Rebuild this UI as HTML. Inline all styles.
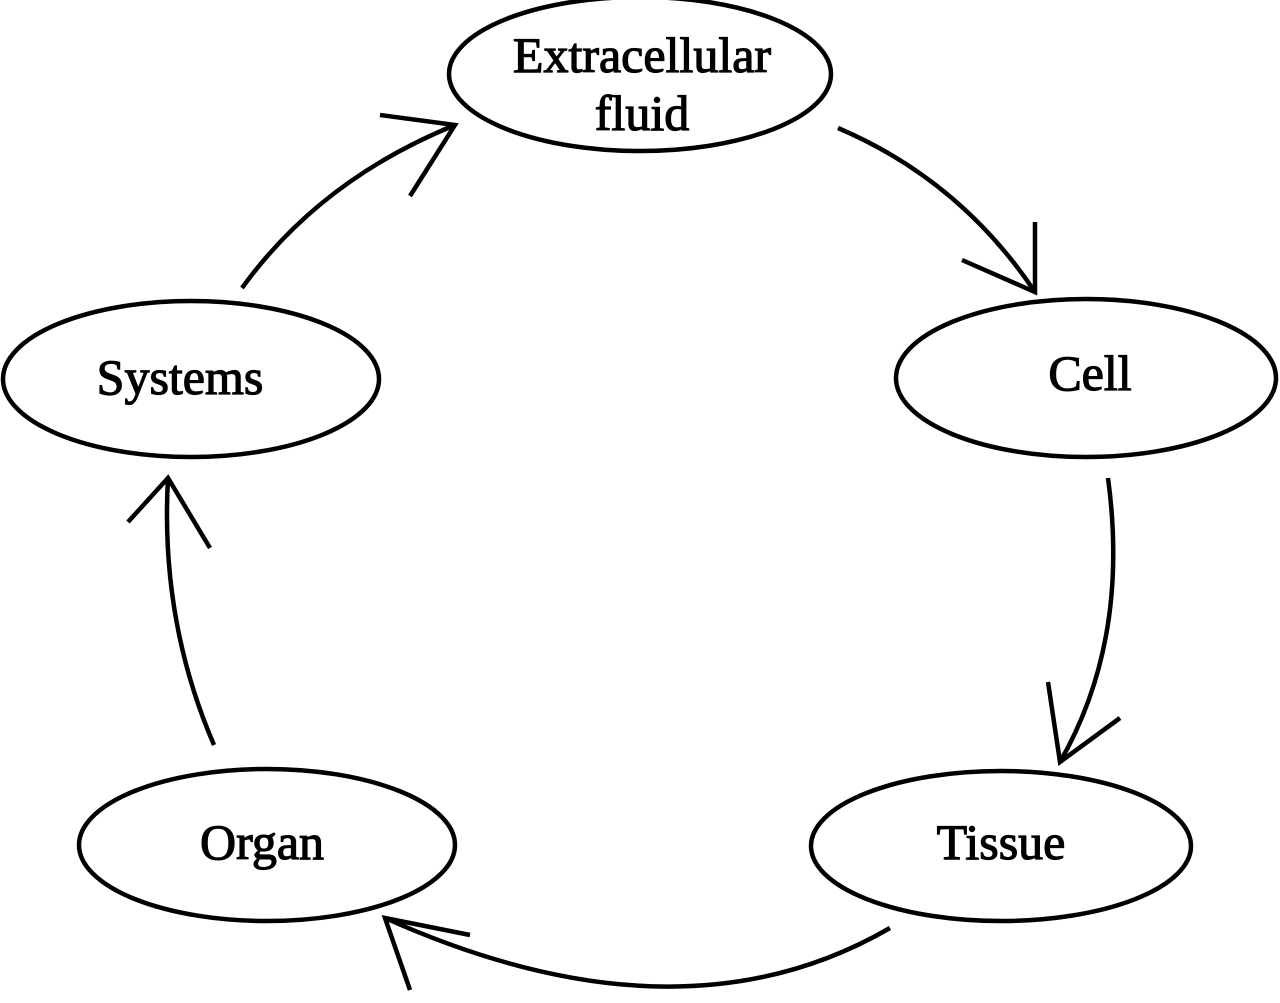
<!DOCTYPE html>
<html><head><meta charset="utf-8"><style>html,body{margin:0;padding:0;background:#fff}</style></head>
<body>
<svg width="1280" height="998" viewBox="0 0 1280 998" xmlns="http://www.w3.org/2000/svg">
<g fill="none" stroke="#000" stroke-width="4.5">
<ellipse cx="640" cy="74" rx="191" ry="77"/>
<ellipse cx="191" cy="379" rx="188" ry="78"/>
<ellipse cx="1086" cy="378" rx="190" ry="79"/>
<ellipse cx="267" cy="845" rx="188" ry="76"/>
<ellipse cx="1001" cy="846" rx="190" ry="75"/>
<path d="M242,288 Q320,180 455,125"/>
<path d="M380,115 L455,125 L410,196"/>
<path d="M838,128 Q960,180 1035,292"/>
<path d="M962,260 L1035,292 L1035,222"/>
<path d="M1108,478 Q1130,640 1060,762"/>
<path d="M1048,682 L1060,762 L1120,718"/>
<path d="M890,928 Q680,1050 385,918"/>
<path d="M410,990 L385,918 L470,935"/>
<path d="M214,745 Q160,620 168,478"/>
<path d="M128,522 L168,478 L210,548"/>
</g>
<g font-family="Liberation Serif, serif" font-size="50" text-anchor="middle" fill="#000" stroke="#000" stroke-width="1.2">
<text x="642" y="72">Extracellular</text>
<text x="642" y="130">fluid</text>
<text x="180" y="394">Systems</text>
<text x="1090" y="390">Cell</text>
<text x="262" y="859">Organ</text>
<text x="1001" y="859">Tissue</text>
</g>
</svg>
</body></html>
